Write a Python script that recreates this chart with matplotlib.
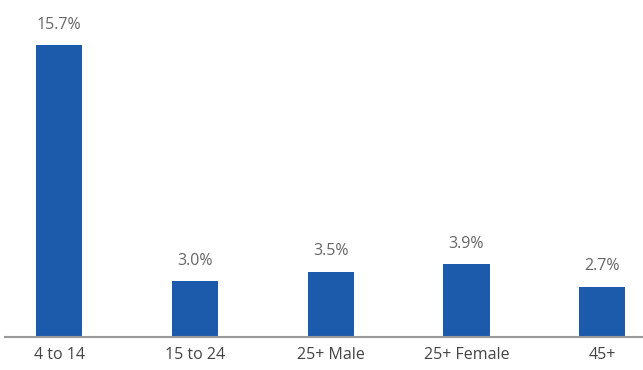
import matplotlib.pyplot as plt

categories = ["4 to 14", "15 to 24", "25+ Male", "25+ Female", "45+"]
values = [15.7, 3.0, 3.5, 3.9, 2.7]
value_labels = ["15.7%", "3.0%", "3.5%", "3.9%", "2.7%"]

plt.rcParams['font.family'] = ['Open Sans', 'DejaVu Sans']

fig = plt.figure(figsize=(6.43, 3.70), dpi=100)
ax = fig.add_axes([5 / 643, 33 / 370, 638 / 643, 337 / 370])

x = range(len(categories))
bars = ax.bar(x, values, width=0.34, color='#1c5aab')

for b, lab in zip(bars, value_labels):
    ax.annotate(lab, (b.get_x() + b.get_width() / 2, b.get_height()),
                xytext=(0, 9), textcoords='offset points',
                ha='center', va='bottom', fontsize=11.5, color='#666666')

ax.set_xlim(-0.398, 4.30)
ax.set_ylim(0, 18.12)
ax.set_xticks(list(x))
ax.set_xticklabels(categories, fontsize=11.5, color='#444444')
ax.tick_params(axis='x', length=0, pad=7)
ax.set_yticks([])
for s in ['top', 'right', 'left']:
    ax.spines[s].set_visible(False)
ax.spines['bottom'].set_color('#999999')
ax.spines['bottom'].set_linewidth(1.5)

fig.savefig("out.png", dpi=100)
